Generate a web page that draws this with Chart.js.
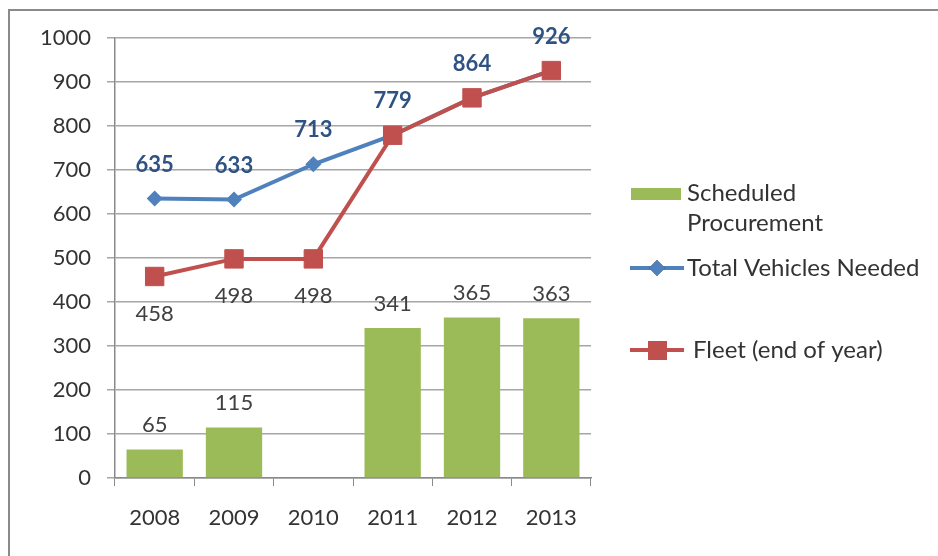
<!DOCTYPE html>
<html>
<head>
<meta charset="utf-8">
<style>
  html, body { margin: 0; padding: 0; background: #fff; }
  #wrap { position: relative; width: 938px; height: 556px; }
</style>
<script src="https://cdn.jsdelivr.net/npm/chart.js@4.4.1/dist/chart.umd.min.js"></script>
</head>
<body>
<div id="wrap"><canvas id="chart" width="938" height="556"></canvas></div>
<script>
"use strict";

// Data
const years = ["2008", "2009", "2010", "2011", "2012", "2013"];
const procurement = [65, 115, null, 341, 365, 363];
const vehiclesNeeded = [635, 633, 713, 779, 864, 926];
const fleet = [458, 498, 498, 779, 864, 926];
// Fleet labels only shown where the two lines differ
const fleetLabels = ["458", "498", "498", null, null, null];
const yTicks = [0, 100, 200, 300, 400, 500, 600, 700, 800, 900, 1000];

const seriesNames = ["Scheduled Procurement", "Total Vehicles Needed", "Fleet (end of year)"];

const GREEN = "#9bbb59";
const BLUE = "#4f81bd";
const RED = "#c0504d";
const FONT = "Lato, 'Open Sans', sans-serif";

// Draws the value labels next to the marks
const valueLabels = {
    id: "valueLabels",
    afterDatasetsDraw(chart) {
        const ctx = chart.ctx;
        ctx.save();
        ctx.textAlign = "center";
        ctx.textBaseline = "middle";

        // bars: grey, above
        chart.getDatasetMeta(0).data.forEach((bar, i) => {
            if (procurement[i] == null) return;
            ctx.font = "22px " + FONT;
            ctx.fillStyle = "#404040";
            ctx.fillText(String(procurement[i]), bar.x, bar.y - 24);
        });

        // fleet: grey, below
        chart.getDatasetMeta(2).data.forEach((pt, i) => {
            if (!fleetLabels[i]) return;
            ctx.font = "22px " + FONT;
            ctx.fillStyle = "#404040";
            ctx.fillText(fleetLabels[i], pt.x, pt.y + 37);
        });

        // vehicles needed: bold blue, above
        chart.getDatasetMeta(1).data.forEach((pt, i) => {
            ctx.font = "bold 22px " + FONT;
            ctx.fillStyle = "#2e5282";
            ctx.fillText(String(vehiclesNeeded[i]), pt.x, pt.y - 34);
        });
        ctx.restore();
    }
};

// Legend on the right, plus the frame line
const sideLegend = {
    id: "sideLegend",
    beforeDraw(chart) {
        const ctx = chart.ctx;
        ctx.save();
        ctx.strokeStyle = "#8a8a8a";
        ctx.lineWidth = 2;
        ctx.beginPath();
        ctx.moveTo(9, 560);
        ctx.lineTo(9, 10);
        ctx.lineTo(940, 10);
        ctx.stroke();
        ctx.restore();
    },
    afterDraw(chart) {
        const ctx = chart.ctx;
        ctx.save();
        ctx.font = "24px " + FONT;
        ctx.fillStyle = "#333";
        ctx.textBaseline = "middle";
        ctx.textAlign = "left";

        // green swatch
        ctx.fillStyle = GREEN;
        ctx.fillRect(631, 188, 50, 12);
        ctx.fillStyle = "#333";
        const words = seriesNames[0].split(" ");
        ctx.fillText(words[0], 687, 193);
        ctx.fillText(words[1], 687, 223);

        // blue line with diamond
        ctx.strokeStyle = BLUE;
        ctx.lineWidth = 4;
        ctx.beginPath();
        ctx.moveTo(630, 268);
        ctx.lineTo(684, 268);
        ctx.stroke();
        Chart.helpers.drawPoint(ctx, { pointStyle: "rectRot", radius: 8, borderWidth: 0 }, 657, 268);
        ctx.fillStyle = BLUE;
        ctx.fill();
        ctx.fillStyle = "#333";
        ctx.fillText(seriesNames[1], 687, 268);

        // red line with square
        ctx.strokeStyle = RED;
        ctx.beginPath();
        ctx.moveTo(630, 350);
        ctx.lineTo(684, 350);
        ctx.stroke();
        ctx.fillStyle = RED;
        ctx.fillRect(648, 341, 19, 19);
        ctx.fillStyle = "#333";
        ctx.fillText(seriesNames[2], 693, 350);
        ctx.restore();
    }
};

new Chart(document.getElementById("chart"), {
    data: {
        labels: years,
        datasets: [
            {
                type: "bar",
                label: seriesNames[0],
                data: procurement,
                backgroundColor: GREEN,
                barPercentage: 0.71,
                categoryPercentage: 1,
                order: 3
            },
            {
                type: "line",
                label: seriesNames[1],
                data: vehiclesNeeded,
                borderColor: BLUE,
                backgroundColor: BLUE,
                borderWidth: 4,
                pointStyle: "rectRot",
                pointRadius: 8,
                pointBorderWidth: 0,
                order: 2
            },
            {
                type: "line",
                label: seriesNames[2],
                data: fleet,
                borderColor: RED,
                backgroundColor: RED,
                borderWidth: 4,
                pointStyle: "rect",
                pointRadius: 13,
                pointBorderWidth: 1,
                order: 1
            }
        ]
    },
    options: {
        responsive: false,
        animation: false,
        layout: {
            padding: { left: 0, right: 347, top: 38, bottom: 8 }
        },
        plugins: {
            legend: { display: false },
            tooltip: { enabled: false }
        },
        scales: {
            x: {
                offset: true,
                grid: {
                    offset: true,
                    drawOnChartArea: false,
                    tickLength: 8,
                    color: "#8a8a8a"
                },
                border: { color: "#8a8a8a", width: 1.5 },
                ticks: {
                    color: "#333",
                    padding: 19,
                    font: { family: FONT, size: 22 }
                },
                afterFit(scale) { scale.height = 70; }
            },
            y: {
                min: 0,
                max: 1000,
                afterBuildTicks(scale) {
                    scale.ticks = yTicks.map(v => ({ value: v }));
                },
                grid: {
                    color: "#a6a6a6",
                    lineWidth: 1.5,
                    tickLength: 8
                },
                border: { color: "#8a8a8a", width: 1.5 },
                ticks: {
                    color: "#333",
                    padding: 16,
                    font: { family: FONT, size: 22 },
                    callback: v => String(v)
                },
                afterFit(scale) { scale.width = 115; }
            }
        }
    },
    plugins: [valueLabels, sideLegend]
});
</script>
</body>
</html>
